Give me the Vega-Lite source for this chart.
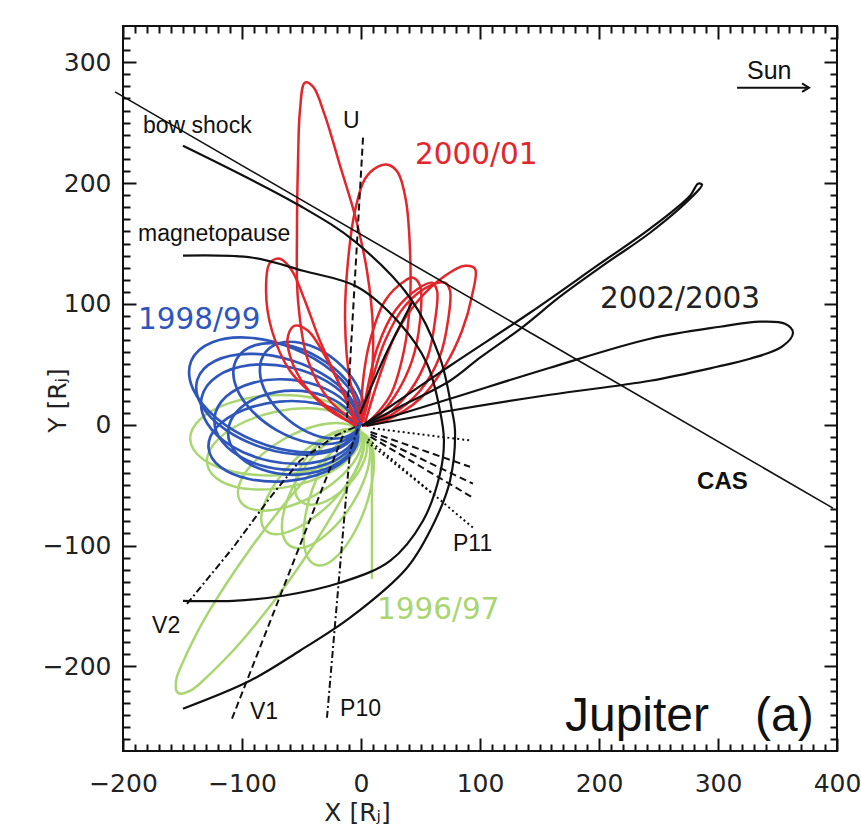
{
"$schema":"https://vega.github.io/schema/vega-lite/v6.json",
"width":714,"height":725,
"autosize":{"type":"none"},
"padding":{"left":123,"top":26,"right":24,"bottom":88},
"background":"white",
"config":{"view":{"stroke":"#111","strokeWidth":2}},
"resolve":{"axis":{"x":"independent","y":"independent"}},
"datasets":{
"green":[
{"id":"G1","i":0,"x":-0.9,"y":-5.0},{"id":"G1","i":1,"x":-9.6,"y":-22.1},{"id":"G1","i":2,"x":-34.9,"y":-35.5},{"id":"G1","i":3,"x":-70.4,"y":-41.7},{"id":"G1","i":4,"x":-106.3,"y":-39.1},{"id":"G1","i":5,"x":-133.0,"y":-28.3},{"id":"G1","i":6,"x":-143.5,"y":-12.2},{"id":"G1","i":7,"x":-134.8,"y":4.9},{"id":"G1","i":8,"x":-109.5,"y":18.3},{"id":"G1","i":9,"x":-74.0,"y":24.5},{"id":"G1","i":10,"x":-38.1,"y":21.9},{"id":"G1","i":11,"x":-11.4,"y":11.1},
{"id":"G2","i":0,"x":-80.3,"y":-87.4},{"id":"G2","i":1,"x":-83.5,"y":-73.9},{"id":"G2","i":2,"x":-75.1,"y":-53.3},{"id":"G2","i":3,"x":-57.5,"y":-30.9},{"id":"G2","i":4,"x":-35.3,"y":-12.9},{"id":"G2","i":5,"x":-14.7,"y":-3.9},{"id":"G2","i":6,"x":-0.9,"y":-6.6},{"id":"G2","i":7,"x":2.3,"y":-20.1},{"id":"G2","i":8,"x":-6.1,"y":-40.7},{"id":"G2","i":9,"x":-23.7,"y":-63.1},{"id":"G2","i":10,"x":-45.9,"y":-81.1},{"id":"G2","i":11,"x":-66.5,"y":-90.1},
{"id":"G3","i":0,"x":-59.7,"y":-100.2},{"id":"G3","i":1,"x":-66.3,"y":-87.2},{"id":"G3","i":2,"x":-63.0,"y":-65.3},{"id":"G3","i":3,"x":-50.7,"y":-40.1},{"id":"G3","i":4,"x":-32.6,"y":-18.5},{"id":"G3","i":5,"x":-13.9,"y":-6.2},{"id":"G3","i":6,"x":0.9,"y":-6.6},{"id":"G3","i":7,"x":7.5,"y":-19.6},{"id":"G3","i":8,"x":4.2,"y":-41.5},{"id":"G3","i":9,"x":-8.1,"y":-66.7},{"id":"G3","i":10,"x":-26.2,"y":-88.3},{"id":"G3","i":11,"x":-44.9,"y":-100.6},
{"id":"G4","i":0,"x":-101.7,"y":-62.9},{"id":"G4","i":1,"x":-101.6,"y":-47.6},{"id":"G4","i":2,"x":-88.0,"y":-29.0},{"id":"G4","i":3,"x":-64.6,"y":-11.8},{"id":"G4","i":4,"x":-37.6,"y":-0.8},{"id":"G4","i":5,"x":-14.4,"y":1.0},{"id":"G4","i":6,"x":-0.9,"y":-6.7},{"id":"G4","i":7,"x":-1.0,"y":-22.0},{"id":"G4","i":8,"x":-14.6,"y":-40.6},{"id":"G4","i":9,"x":-38.0,"y":-57.8},{"id":"G4","i":10,"x":-65.0,"y":-68.8},{"id":"G4","i":11,"x":-88.2,"y":-70.6},
{"id":"G5","i":0,"x":-38.3,"y":-115.9},{"id":"G5","i":1,"x":-46.8,"y":-104.7},{"id":"G5","i":2,"x":-47.7,"y":-81.9},{"id":"G5","i":3,"x":-40.9,"y":-53.6},{"id":"G5","i":4,"x":-28.1,"y":-27.3},{"id":"G5","i":5,"x":-12.8,"y":-10.1},{"id":"G5","i":6,"x":0.9,"y":-6.7},{"id":"G5","i":7,"x":9.4,"y":-17.9},{"id":"G5","i":8,"x":10.3,"y":-40.7},{"id":"G5","i":9,"x":3.5,"y":-69.0},{"id":"G5","i":10,"x":-9.3,"y":-95.3},{"id":"G5","i":11,"x":-24.6,"y":-112.5},
{"id":"G6","i":0,"x":-153.8,"y":-221.9},{"id":"G6","i":1,"x":-155.6,"y":-215.2},{"id":"G6","i":2,"x":-152.0,"y":-201.5},{"id":"G6","i":3,"x":-130.0,"y":-158.2},{"id":"G6","i":4,"x":-93.6,"y":-103.4},{"id":"G6","i":5,"x":-52.6,"y":-51.8},{"id":"G6","i":6,"x":-18.2,"y":-17.3},{"id":"G6","i":7,"x":0.8,"y":-9.1},{"id":"G6","i":8,"x":-1.0,"y":-29.5},{"id":"G6","i":9,"x":-23.0,"y":-72.8},{"id":"G6","i":10,"x":-59.4,"y":-127.6},{"id":"G6","i":11,"x":-100.4,"y":-179.2},{"id":"G6","i":12,"x":-134.8,"y":-213.7},{"id":"G6","i":13,"x":-146.8,"y":-221.4},
{"id":"G7","i":0,"x":-51.3,"y":-62.9},{"id":"G7","i":1,"x":-55.6,"y":-52.1},{"id":"G7","i":2,"x":-51.7,"y":-36.8},{"id":"G7","i":3,"x":-40.7,"y":-20.8},{"id":"G7","i":4,"x":-25.5,"y":-8.6},{"id":"G7","i":5,"x":-10.4,"y":-3.5},{"id":"G7","i":6,"x":0.9,"y":-6.7},{"id":"G7","i":7,"x":5.2,"y":-17.5},{"id":"G7","i":8,"x":1.3,"y":-32.8},{"id":"G7","i":9,"x":-9.7,"y":-48.8},{"id":"G7","i":10,"x":-24.9,"y":-61.0},{"id":"G7","i":11,"x":-40.0,"y":-66.1},
{"id":"G8","i":0,"x":-0.9,"y":-6.6},{"id":"G8","i":1,"x":-6.2,"y":-23.8},{"id":"G8","i":2,"x":-27.2,"y":-40.0},{"id":"G8","i":3,"x":-58.4,"y":-50.8},{"id":"G8","i":4,"x":-91.4,"y":-53.4},{"id":"G8","i":5,"x":-117.2,"y":-47.0},{"id":"G8","i":6,"x":-129.1,"y":-33.4},{"id":"G8","i":7,"x":-123.8,"y":-16.2},{"id":"G8","i":8,"x":-102.8,"y":0.0},{"id":"G8","i":9,"x":-71.6,"y":10.8},{"id":"G8","i":10,"x":-38.6,"y":13.4},{"id":"G8","i":11,"x":-12.8,"y":7.0}
],
"gline":[{"x":9.2,"y":-13.2},{"x":9.2,"y":-127.5}],
"blue":[
{"id":"B1","i":0,"x":-2.5,"y":-3.3},{"id":"B1","i":1,"x":-19.8,"y":-18.7},{"id":"B1","i":2,"x":-51.2,"y":-22.6},{"id":"B1","i":3,"x":-88.4,"y":-13.7},{"id":"B1","i":4,"x":-121.4,"y":5.4},{"id":"B1","i":5,"x":-141.2,"y":29.7},{"id":"B1","i":6,"x":-142.7,"y":52.7},{"id":"B1","i":7,"x":-125.4,"y":68.1},{"id":"B1","i":8,"x":-94.0,"y":72.0},{"id":"B1","i":9,"x":-56.8,"y":63.1},{"id":"B1","i":10,"x":-23.8,"y":44.0},{"id":"B1","i":11,"x":-4.0,"y":19.7},
{"id":"B2","i":0,"x":-2.5,"y":-4.9},{"id":"B2","i":1,"x":-15.5,"y":-22.5},{"id":"B2","i":2,"x":-42.6,"y":-31.7},{"id":"B2","i":3,"x":-76.6,"y":-30.0},{"id":"B2","i":4,"x":-108.4,"y":-17.9},{"id":"B2","i":5,"x":-129.3,"y":1.3},{"id":"B2","i":6,"x":-133.9,"y":22.5},{"id":"B2","i":7,"x":-120.9,"y":40.1},{"id":"B2","i":8,"x":-93.8,"y":49.3},{"id":"B2","i":9,"x":-59.8,"y":47.6},{"id":"B2","i":10,"x":-28.0,"y":35.5},{"id":"B2","i":11,"x":-7.1,"y":16.3},
{"id":"B3","i":0,"x":-2.5,"y":-5.0},{"id":"B3","i":1,"x":-12.3,"y":-22.9},{"id":"B3","i":2,"x":-35.5,"y":-34.5},{"id":"B3","i":3,"x":-66.1,"y":-36.9},{"id":"B3","i":4,"x":-95.9,"y":-29.3},{"id":"B3","i":5,"x":-116.7,"y":-13.9},{"id":"B3","i":6,"x":-123.1,"y":5.4},{"id":"B3","i":7,"x":-113.3,"y":23.3},{"id":"B3","i":8,"x":-90.1,"y":34.9},{"id":"B3","i":9,"x":-59.5,"y":37.3},{"id":"B3","i":10,"x":-29.7,"y":29.7},{"id":"B3","i":11,"x":-8.9,"y":14.3},
{"id":"B4","i":0,"x":-2.5,"y":-6.6},{"id":"B4","i":1,"x":-9.8,"y":-24.0},{"id":"B4","i":2,"x":-29.8,"y":-36.7},{"id":"B4","i":3,"x":-57.1,"y":-41.4},{"id":"B4","i":4,"x":-84.4,"y":-36.7},{"id":"B4","i":5,"x":-104.4,"y":-24.0},{"id":"B4","i":6,"x":-111.7,"y":-6.6},{"id":"B4","i":7,"x":-104.4,"y":10.8},{"id":"B4","i":8,"x":-84.4,"y":23.5},{"id":"B4","i":9,"x":-57.1,"y":28.2},{"id":"B4","i":10,"x":-29.8,"y":23.5},{"id":"B4","i":11,"x":-9.8,"y":10.8},
{"id":"B5","i":0,"x":-2.5,"y":-3.3},{"id":"B5","i":1,"x":-18.1,"y":-14.5},{"id":"B5","i":2,"x":-43.1,"y":-14.9},{"id":"B5","i":3,"x":-71.0,"y":-4.4},{"id":"B5","i":4,"x":-94.1,"y":14.1},{"id":"B5","i":5,"x":-106.3,"y":35.7},{"id":"B5","i":6,"x":-104.3,"y":54.7},{"id":"B5","i":7,"x":-88.7,"y":65.9},{"id":"B5","i":8,"x":-63.7,"y":66.3},{"id":"B5","i":9,"x":-35.8,"y":55.8},{"id":"B5","i":10,"x":-12.7,"y":37.3},{"id":"B5","i":11,"x":-0.5,"y":15.7},
{"id":"B6","i":0,"x":-2.5,"y":-3.4},{"id":"B6","i":1,"x":-18.0,"y":-11.2},{"id":"B6","i":2,"x":-39.6,"y":-8.3},{"id":"B6","i":3,"x":-61.7,"y":4.5},{"id":"B6","i":4,"x":-78.4,"y":23.7},{"id":"B6","i":5,"x":-85.0,"y":44.2},{"id":"B6","i":6,"x":-79.9,"y":60.6},{"id":"B6","i":7,"x":-64.4,"y":68.4},{"id":"B6","i":8,"x":-42.8,"y":65.5},{"id":"B6","i":9,"x":-20.7,"y":52.7},{"id":"B6","i":10,"x":-4.0,"y":33.5},{"id":"B6","i":11,"x":2.6,"y":13.0},
{"id":"B7","i":0,"x":-2.5,"y":-8.3},{"id":"B7","i":1,"x":-9.4,"y":-25.5},{"id":"B7","i":2,"x":-31.4,"y":-39.5},{"id":"B7","i":3,"x":-62.4,"y":-46.6},{"id":"B7","i":4,"x":-94.2,"y":-44.9},{"id":"B7","i":5,"x":-118.2,"y":-34.9},{"id":"B7","i":6,"x":-128.1,"y":-19.1},{"id":"B7","i":7,"x":-121.2,"y":-1.9},{"id":"B7","i":8,"x":-99.2,"y":12.1},{"id":"B7","i":9,"x":-68.2,"y":19.2},{"id":"B7","i":10,"x":-36.4,"y":17.5},{"id":"B7","i":11,"x":-12.4,"y":7.5},
{"id":"B8","i":0,"x":-2.5,"y":-3.3},{"id":"B8","i":1,"x":-17.2,"y":-18.8},{"id":"B8","i":2,"x":-46.0,"y":-24.7},{"id":"B8","i":3,"x":-81.3,"y":-19.4},{"id":"B8","i":4,"x":-113.6,"y":-4.3},{"id":"B8","i":5,"x":-134.2,"y":16.4},{"id":"B8","i":6,"x":-137.5,"y":37.3},{"id":"B8","i":7,"x":-122.8,"y":52.8},{"id":"B8","i":8,"x":-94.0,"y":58.7},{"id":"B8","i":9,"x":-58.7,"y":53.4},{"id":"B8","i":10,"x":-26.4,"y":38.3},{"id":"B8","i":11,"x":-5.8,"y":17.6}
],
"red":[
{"id":"R1","i":0,"x":-2.5,"y":1.7},{"id":"R1","i":1,"x":-26.1,"y":19.9},{"id":"R1","i":2,"x":-44.5,"y":53.0},{"id":"R1","i":3,"x":-52.9,"y":102.6},{"id":"R1","i":4,"x":-53.8,"y":160.6},{"id":"R1","i":5,"x":-52.9,"y":218.5},{"id":"R1","i":6,"x":-51.3,"y":259.9},{"id":"R1","i":7,"x":-47.1,"y":283.1},{"id":"R1","i":8,"x":-40.3,"y":279.8},{"id":"R1","i":9,"x":-30.3,"y":255.8},{"id":"R1","i":10,"x":-17.6,"y":214.4},{"id":"R1","i":11,"x":-5.0,"y":173.0},{"id":"R1","i":12,"x":5.0,"y":127.5},{"id":"R1","i":13,"x":10.1,"y":77.8},{"id":"R1","i":14,"x":7.6,"y":28.1},{"id":"R1","i":15,"x":0.8,"y":1.7},
{"id":"R2","i":0,"x":0.8,"y":1.7},{"id":"R2","i":1,"x":-9.2,"y":36.4},{"id":"R2","i":2,"x":-13.4,"y":86.1},{"id":"R2","i":3,"x":-10.9,"y":135.8},{"id":"R2","i":4,"x":-5.0,"y":177.2},{"id":"R2","i":5,"x":3.4,"y":203.6},{"id":"R2","i":6,"x":14.3,"y":213.6},{"id":"R2","i":7,"x":22.7,"y":215.2},{"id":"R2","i":8,"x":31.1,"y":208.6},{"id":"R2","i":9,"x":37.8,"y":185.4},{"id":"R2","i":10,"x":41.2,"y":144.0},{"id":"R2","i":11,"x":41.2,"y":102.6},{"id":"R2","i":12,"x":36.1,"y":61.3},{"id":"R2","i":13,"x":24.4,"y":24.0},{"id":"R2","i":14,"x":5.9,"y":1.7},
{"id":"R3","i":0,"x":-5.0,"y":-0.8},{"id":"R3","i":1,"x":-34.5,"y":19.9},{"id":"R3","i":2,"x":-59.7,"y":44.7},{"id":"R3","i":3,"x":-74.8,"y":77.8},{"id":"R3","i":4,"x":-79.8,"y":110.9},{"id":"R3","i":5,"x":-76.5,"y":134.1},{"id":"R3","i":6,"x":-68.1,"y":137.4},{"id":"R3","i":7,"x":-58.0,"y":127.5},{"id":"R3","i":8,"x":-47.1,"y":102.6},{"id":"R3","i":9,"x":-34.5,"y":69.5},{"id":"R3","i":10,"x":-17.6,"y":32.3},{"id":"R3","i":11,"x":-4.2,"y":1.7},
{"id":"R4","i":0,"x":3.4,"y":1.7},{"id":"R4","i":1,"x":14.3,"y":36.4},{"id":"R4","i":2,"x":28.6,"y":73.7},{"id":"R4","i":3,"x":47.9,"y":102.6},{"id":"R4","i":4,"x":70.6,"y":123.3},{"id":"R4","i":5,"x":87.4,"y":131.6},{"id":"R4","i":6,"x":95.8,"y":129.1},{"id":"R4","i":7,"x":93.3,"y":106.8},{"id":"R4","i":8,"x":84.9,"y":77.8},{"id":"R4","i":9,"x":70.6,"y":48.8},{"id":"R4","i":10,"x":49.6,"y":21.5},{"id":"R4","i":11,"x":20.2,"y":3.3},{"id":"R4","i":12,"x":3.4,"y":-0.8},
{"id":"R5","i":0,"x":1.7,"y":3.3},{"id":"R5","i":1,"x":9.2,"y":36.4},{"id":"R5","i":2,"x":20.2,"y":69.5},{"id":"R5","i":3,"x":37.0,"y":98.5},{"id":"R5","i":4,"x":58.0,"y":115.1},{"id":"R5","i":5,"x":70.6,"y":117.5},{"id":"R5","i":6,"x":74.8,"y":110.9},{"id":"R5","i":7,"x":73.1,"y":86.1},{"id":"R5","i":8,"x":66.4,"y":57.1},{"id":"R5","i":9,"x":49.6,"y":28.1},{"id":"R5","i":10,"x":24.4,"y":7.5},{"id":"R5","i":11,"x":3.4,"y":-0.8},
{"id":"R6","i":0,"x":0.8,"y":3.3},{"id":"R6","i":1,"x":5.9,"y":32.3},{"id":"R6","i":2,"x":14.3,"y":65.4},{"id":"R6","i":3,"x":28.6,"y":94.4},{"id":"R6","i":4,"x":47.9,"y":112.6},{"id":"R6","i":5,"x":59.7,"y":117.5},{"id":"R6","i":6,"x":63.9,"y":110.9},{"id":"R6","i":7,"x":62.2,"y":86.1},{"id":"R6","i":8,"x":56.3,"y":57.1},{"id":"R6","i":9,"x":41.2,"y":28.1},{"id":"R6","i":10,"x":20.2,"y":7.5},{"id":"R6","i":11,"x":2.5,"y":-0.8},
{"id":"R7","i":0,"x":0.0,"y":3.3},{"id":"R7","i":1,"x":1.7,"y":36.4},{"id":"R7","i":2,"x":7.6,"y":69.5},{"id":"R7","i":3,"x":20.2,"y":102.6},{"id":"R7","i":4,"x":37.0,"y":119.2},{"id":"R7","i":5,"x":43.7,"y":121.7},{"id":"R7","i":6,"x":49.6,"y":115.1},{"id":"R7","i":7,"x":49.6,"y":86.1},{"id":"R7","i":8,"x":42.9,"y":53.0},{"id":"R7","i":9,"x":28.6,"y":24.0},{"id":"R7","i":10,"x":11.8,"y":5.0},{"id":"R7","i":11,"x":0.8,"y":-0.8},
{"id":"R8","i":0,"x":-2.5,"y":-0.8},{"id":"R8","i":1,"x":-26.1,"y":11.6},{"id":"R8","i":2,"x":-47.1,"y":32.3},{"id":"R8","i":3,"x":-59.7,"y":57.1},{"id":"R8","i":4,"x":-61.3,"y":73.7},{"id":"R8","i":5,"x":-55.5,"y":82.0},{"id":"R8","i":6,"x":-44.5,"y":77.8},{"id":"R8","i":7,"x":-30.3,"y":57.1},{"id":"R8","i":8,"x":-13.4,"y":24.0},{"id":"R8","i":9,"x":-2.5,"y":1.7}
],
"black":[
{"id":"A","i":0,"x":0.8,"y":-0.8},{"id":"A","i":1,"x":74.8,"y":48.8},{"id":"A","i":2,"x":142.0,"y":92.7},{"id":"A","i":3,"x":200.8,"y":133.3},{"id":"A","i":4,"x":242.9,"y":162.3},{"id":"A","i":5,"x":276.5,"y":189.6},{"id":"A","i":6,"x":283.2,"y":199.5},{"id":"A","i":7,"x":286.6,"y":198.7},{"id":"A","i":8,"x":278.2,"y":188.7},{"id":"A","i":9,"x":242.9,"y":158.9},{"id":"A","i":10,"x":206.7,"y":134.1},{"id":"A","i":11,"x":167.2,"y":106.0},{"id":"A","i":12,"x":136.1,"y":81.1},{"id":"A","i":13,"x":100.0,"y":55.5},{"id":"A","i":14,"x":74.8,"y":36.4},{"id":"A","i":15,"x":32.8,"y":14.9},{"id":"A","i":16,"x":3.4,"y":0.0},
{"id":"B","i":0,"x":0.8,"y":-0.8},{"id":"B","i":1,"x":74.8,"y":21.5},{"id":"B","i":2,"x":158.8,"y":47.2},{"id":"B","i":3,"x":242.9,"y":71.2},{"id":"B","i":4,"x":301.7,"y":81.1},{"id":"B","i":5,"x":335.3,"y":85.3},{"id":"B","i":6,"x":356.3,"y":83.6},{"id":"B","i":7,"x":363.0,"y":76.2},{"id":"B","i":8,"x":353.8,"y":64.6},{"id":"B","i":9,"x":326.9,"y":54.6},{"id":"B","i":10,"x":299.2,"y":48.0},{"id":"B","i":11,"x":242.9,"y":36.4},{"id":"B","i":12,"x":158.8,"y":24.8},{"id":"B","i":13,"x":74.8,"y":11.6},{"id":"B","i":14,"x":5.0,"y":-0.8},
{"id":"S","i":0,"x":-0.8,"y":9.1},{"id":"S","i":1,"x":20.2,"y":57.1},{"id":"S","i":2,"x":43.7,"y":102.6},
{"id":"bow","i":0,"x":-149.6,"y":230.9},{"id":"bow","i":1,"x":-51.3,"y":181.2},{"id":"bow","i":2,"x":-5.0,"y":151.5},{"id":"bow","i":3,"x":41.2,"y":105.1},{"id":"bow","i":4,"x":66.4,"y":55.4},{"id":"bow","i":5,"x":76.5,"y":11.6},{"id":"bow","i":6,"x":79.0,"y":-5.0},{"id":"bow","i":7,"x":74.8,"y":-46.3},{"id":"bow","i":8,"x":62.2,"y":-79.4},{"id":"bow","i":9,"x":38.7,"y":-118.3},{"id":"bow","i":10,"x":-9.2,"y":-159.7},{"id":"bow","i":11,"x":-51.3,"y":-187.0},{"id":"bow","i":12,"x":-93.3,"y":-211.9},{"id":"bow","i":13,"x":-149.6,"y":-235.0},
{"id":"mp","i":0,"x":-149.6,"y":139.9},{"id":"mp","i":1,"x":-90.8,"y":138.2},{"id":"mp","i":2,"x":-48.7,"y":127.4},{"id":"mp","i":3,"x":-3.4,"y":114.2},{"id":"mp","i":4,"x":32.8,"y":83.6},{"id":"mp","i":5,"x":55.5,"y":50.5},{"id":"mp","i":6,"x":66.4,"y":11.6},{"id":"mp","i":7,"x":69.7,"y":-13.2},{"id":"mp","i":8,"x":66.4,"y":-40.6},{"id":"mp","i":9,"x":52.1,"y":-79.4},{"id":"mp","i":10,"x":24.4,"y":-112.6},{"id":"mp","i":11,"x":-17.6,"y":-130.8},{"id":"mp","i":12,"x":-65.5,"y":-141.5},{"id":"mp","i":13,"x":-107.6,"y":-145.7},{"id":"mp","i":14,"x":-149.6,"y":-145.7}
],
"dash":[
{"id":"U","d":"dashed","i":0,"x":1.7,"y":237.6},{"id":"U","d":"dashed","i":1,"x":-11.8,"y":5.8},
{"id":"V1","d":"dashed","i":0,"x":-108.4,"y":-243.3},{"id":"V1","d":"dashed","i":1,"x":-13.6,"y":-5.0},
{"id":"V2","d":"dashdot","i":0,"x":-146.2,"y":-148.2},{"id":"V2","d":"dashdot","i":1,"x":-107.6,"y":-101.8},{"id":"V2","d":"dashdot","i":2,"x":-76.5,"y":-60.4},{"id":"V2","d":"dashdot","i":3,"x":-51.3,"y":-29.8},{"id":"V2","d":"dashdot","i":4,"x":-21.8,"y":-9.1},{"id":"V2","d":"dashdot","i":5,"x":-2.5,"y":-0.8},
{"id":"P10","d":"dashdot","i":0,"x":-28.6,"y":-242.5},{"id":"P10","d":"dashdot","i":1,"x":-9.2,"y":-21.5},{"id":"P10","d":"dashdot","i":2,"x":-2.5,"y":-3.3},
{"id":"P11a","d":"dotted","i":0,"x":10,"y":-3},{"id":"P11a","d":"dotted","i":1,"x":93.3,"y":-13.2},
{"id":"P11b","d":"dashed","i":0,"x":8,"y":-6},{"id":"P11b","d":"dashed","i":1,"x":91.6,"y":-34.8},
{"id":"P11c","d":"dashed","i":0,"x":8,"y":-8},{"id":"P11c","d":"dashed","i":1,"x":94.1,"y":-48.8},
{"id":"P11d","d":"dashed","i":0,"x":8,"y":-10},{"id":"P11d","d":"dashed","i":1,"x":94.1,"y":-60.4},
{"id":"P11e","d":"dotted","i":0,"x":6,"y":-12},{"id":"P11e","d":"dotted","i":1,"x":94.1,"y":-85.2},
{"id":"P11f","d":"dotted","i":0,"x":5,"y":-14},{"id":"P11f","d":"dotted","i":1,"x":64,"y":-60}
],
"cas":[{"x":-206.7,"y":275.5},{"x":396.6,"y":-69.0}],
"arrow":[{"x":316,"y":279},{"x":376.5,"y":279}],
"head":[{"x":376.5,"y":279}],
"t1":[{"t":"bow shock","x":-183.2,"y":241.7},{"t":"magnetopause","x":-187.4,"y":152.3},{"t":"U","x":-15.1,"y":245.9},{"t":"V2","x":-175.6,"y":-172.2},{"t":"V1","x":-93.3,"y":-243.4},{"t":"P10","x":-17.6,"y":-240.9},{"t":"P11","x":77.3,"y":-104.3}],
"t2":[{"t":"2000/01","f":"r","x":45.4,"y":216.1},{"t":"1998/99","f":"b","x":-187.4,"y":79.5},{"t":"1996/97","f":"g","x":13.4,"y":-160.6},{"t":"2002/2003","f":"k","x":200.8,"y":96.9}],
"t3":[{"t":"CAS","x":282.4,"y":-53}],
"t4":[{"t":"Sun","x":324.4,"y":286.4}],
"t5":[{"t":"Jupiter","x":171.4,"y":-253.3},{"t":"(a)","x":331.1,"y":-253.3}]
},
"layer":[
{"data":{"name":"green"},"mark":{"type":"line","interpolate":"cardinal-closed","color":"#a9d671","strokeWidth":2.5},
"encoding":{
"x":{"field":"x","type":"quantitative","scale":{"domain":[-200,400],"nice":false,"zero":false},
"axis":{"orient":"bottom","values":[-200,-100,0,100,200,300,400],"ticks":false,"domain":false,"grid":false,"labelFlush":false,"labelOverlap":false,"labelFont":"DejaVu Sans","labelFontSize":25,"labelColor":"#222","labelPadding":20,"title":"X [Rⱼ]","titleFont":"DejaVu Sans","titleFontSize":25,"titleFontWeight":"normal","titleColor":"#222","titleX":234,"titleY":61,"titleAlign":"center","titleBaseline":"middle"}},
"y":{"field":"y","type":"quantitative","scale":{"domain":[-270,330],"nice":false,"zero":false},
"axis":{"orient":"left","values":[-200,-100,0,100,200,300],"ticks":false,"domain":false,"grid":false,"labelFlush":false,"labelOverlap":false,"labelFont":"DejaVu Sans","labelFontSize":25,"labelColor":"#222","labelPadding":12,"title":"Y [Rⱼ]","titleFont":"DejaVu Sans","titleFontSize":25,"titleFontWeight":"normal","titleColor":"#222","titleX":-66,"titleY":374,"titleAngle":270,"titleAlign":"center","titleBaseline":"middle"}},
"detail":{"field":"id"},"order":{"field":"i","type":"quantitative"}}},
{"data":{"name":"gline"},"mark":{"type":"line","color":"#a9d671","strokeWidth":2.5},
"encoding":{"x":{"field":"x","type":"quantitative","scale":{"domain":[-200,400],"nice":false,"zero":false},"axis":null},"y":{"field":"y","type":"quantitative","scale":{"domain":[-270,330],"nice":false,"zero":false},"axis":null}}},
{"data":{"name":"blue"},"mark":{"type":"line","interpolate":"cardinal-closed","color":"#2f56ba","strokeWidth":2.7},
"encoding":{
"x":{"field":"x","type":"quantitative","scale":{"domain":[-200,400],"nice":false,"zero":false},
"axis":{"orient":"bottom","values":[-190,-180,-170,-160,-150,-140,-130,-120,-110,-90,-80,-70,-60,-50,-40,-30,-20,-10,10,20,30,40,50,60,70,80,90,110,120,130,140,150,160,170,180,190,210,220,230,240,250,260,270,280,290,310,320,330,340,350,360,370,380,390],"tickCount":200,"labels":false,"ticks":true,"tickSize":-7,"tickWidth":2,"tickColor":"#111","domain":false,"grid":false,"title":null}},
"y":{"field":"y","type":"quantitative","scale":{"domain":[-270,330],"nice":false,"zero":false},
"axis":{"orient":"left","values":[-260,-250,-240,-230,-220,-210,-190,-180,-170,-160,-150,-140,-130,-120,-110,-90,-80,-70,-60,-50,-40,-30,-20,-10,10,20,30,40,50,60,70,80,90,110,120,130,140,150,160,170,180,190,210,220,230,240,250,260,270,280,290,310,320],"tickCount":200,"labels":false,"ticks":true,"tickSize":-7,"tickWidth":2,"tickColor":"#111","domain":false,"grid":false,"title":null}},
"detail":{"field":"id"},"order":{"field":"i","type":"quantitative"}}},
{"data":{"name":"red"},"mark":{"type":"line","interpolate":"catmull-rom","color":"#e3262c","strokeWidth":2.5},
"encoding":{
"x":{"field":"x","type":"quantitative","scale":{"domain":[-200,400],"nice":false,"zero":false},
"axis":{"orient":"bottom","values":[-200,-100,0,100,200,300,400],"labels":false,"ticks":true,"tickSize":-13,"tickWidth":2,"tickColor":"#111","domain":false,"grid":false,"title":null}},
"y":{"field":"y","type":"quantitative","scale":{"domain":[-270,330],"nice":false,"zero":false},
"axis":{"orient":"left","values":[-200,-100,0,100,200,300],"labels":false,"ticks":true,"tickSize":-13,"tickWidth":2,"tickColor":"#111","domain":false,"grid":false,"title":null}},
"detail":{"field":"id"},"order":{"field":"i","type":"quantitative"}}},
{"data":{"name":"black"},"mark":{"type":"line","interpolate":"catmull-rom","color":"#111","strokeWidth":2.2},
"encoding":{
"x":{"field":"x","type":"quantitative","scale":{"domain":[-200,400],"nice":false,"zero":false},
"axis":{"orient":"top","values":[-190,-180,-170,-160,-150,-140,-130,-120,-110,-90,-80,-70,-60,-50,-40,-30,-20,-10,10,20,30,40,50,60,70,80,90,110,120,130,140,150,160,170,180,190,210,220,230,240,250,260,270,280,290,310,320,330,340,350,360,370,380,390],"tickCount":200,"labels":false,"ticks":true,"tickSize":-7,"tickWidth":2,"tickColor":"#111","domain":false,"grid":false,"title":null}},
"y":{"field":"y","type":"quantitative","scale":{"domain":[-270,330],"nice":false,"zero":false},
"axis":{"orient":"right","values":[-260,-250,-240,-230,-220,-210,-190,-180,-170,-160,-150,-140,-130,-120,-110,-90,-80,-70,-60,-50,-40,-30,-20,-10,10,20,30,40,50,60,70,80,90,110,120,130,140,150,160,170,180,190,210,220,230,240,250,260,270,280,290,310,320],"tickCount":200,"labels":false,"ticks":true,"tickSize":-7,"tickWidth":2,"tickColor":"#111","domain":false,"grid":false,"title":null}},
"detail":{"field":"id"},"order":{"field":"i","type":"quantitative"}}},
{"data":{"name":"dash"},"mark":{"type":"line","color":"#111","strokeWidth":2},
"encoding":{
"x":{"field":"x","type":"quantitative","scale":{"domain":[-200,400],"nice":false,"zero":false},
"axis":{"orient":"top","values":[-200,-100,0,100,200,300,400],"labels":false,"ticks":true,"tickSize":-13,"tickWidth":2,"tickColor":"#111","domain":false,"grid":false,"title":null}},
"y":{"field":"y","type":"quantitative","scale":{"domain":[-270,330],"nice":false,"zero":false},
"axis":{"orient":"right","values":[-200,-100,0,100,200,300],"labels":false,"ticks":true,"tickSize":-13,"tickWidth":2,"tickColor":"#111","domain":false,"grid":false,"title":null}},
"detail":{"field":"id"},"order":{"field":"i","type":"quantitative"},
"strokeDash":{"field":"d","type":"nominal","scale":{"domain":["dashed","dashdot","dotted"],"range":[[7,4],[7,3,2,3],[2,3]]},"legend":null}}},
{"data":{"name":"cas"},"mark":{"type":"line","color":"#111","strokeWidth":1.6,"clip":false},
"encoding":{"x":{"field":"x","type":"quantitative","scale":{"domain":[-200,400],"nice":false,"zero":false},"axis":null},"y":{"field":"y","type":"quantitative","scale":{"domain":[-270,330],"nice":false,"zero":false},"axis":null}}},
{"data":{"name":"arrow"},"mark":{"type":"line","color":"#111","strokeWidth":2},
"encoding":{"x":{"field":"x","type":"quantitative","scale":{"domain":[-200,400],"nice":false,"zero":false},"axis":null},"y":{"field":"y","type":"quantitative","scale":{"domain":[-270,330],"nice":false,"zero":false},"axis":null}}},
{"data":{"name":"head"},"mark":{"type":"point","shape":"M-1,-0.6L0,0L-1,0.6","filled":false,"stroke":"#111","strokeWidth":2,"size":196,"opacity":1},
"encoding":{"x":{"field":"x","type":"quantitative","scale":{"domain":[-200,400],"nice":false,"zero":false},"axis":null},"y":{"field":"y","type":"quantitative","scale":{"domain":[-270,330],"nice":false,"zero":false},"axis":null}}},
{"data":{"name":"t1"},"mark":{"type":"text","font":"Liberation Sans","fontSize":23,"align":"left","baseline":"alphabetic","color":"#111"},
"encoding":{"x":{"field":"x","type":"quantitative","scale":{"domain":[-200,400],"nice":false,"zero":false},"axis":null},"y":{"field":"y","type":"quantitative","scale":{"domain":[-270,330],"nice":false,"zero":false},"axis":null},"text":{"field":"t"}}},
{"data":{"name":"t2"},"mark":{"type":"text","font":"DejaVu Sans","fontSize":29.5,"align":"left","baseline":"alphabetic"},
"encoding":{"x":{"field":"x","type":"quantitative","scale":{"domain":[-200,400],"nice":false,"zero":false},"axis":null},"y":{"field":"y","type":"quantitative","scale":{"domain":[-270,330],"nice":false,"zero":false},"axis":null},"text":{"field":"t"},
"color":{"field":"f","type":"nominal","scale":{"domain":["r","b","g","k"],"range":["#e3262c","#2f56ba","#a9d671","#222222"]},"legend":null}}},
{"data":{"name":"t3"},"mark":{"type":"text","font":"Liberation Sans","fontSize":24,"fontWeight":"bold","align":"left","baseline":"alphabetic","color":"#111"},
"encoding":{"x":{"field":"x","type":"quantitative","scale":{"domain":[-200,400],"nice":false,"zero":false},"axis":null},"y":{"field":"y","type":"quantitative","scale":{"domain":[-270,330],"nice":false,"zero":false},"axis":null},"text":{"field":"t"}}},
{"data":{"name":"t4"},"mark":{"type":"text","font":"Liberation Sans","fontSize":25,"align":"left","baseline":"alphabetic","color":"#111"},
"encoding":{"x":{"field":"x","type":"quantitative","scale":{"domain":[-200,400],"nice":false,"zero":false},"axis":null},"y":{"field":"y","type":"quantitative","scale":{"domain":[-270,330],"nice":false,"zero":false},"axis":null},"text":{"field":"t"}}},
{"data":{"name":"t5"},"mark":{"type":"text","font":"Liberation Sans","fontSize":48,"align":"left","baseline":"alphabetic","color":"#111"},
"encoding":{"x":{"field":"x","type":"quantitative","scale":{"domain":[-200,400],"nice":false,"zero":false},"axis":null},"y":{"field":"y","type":"quantitative","scale":{"domain":[-270,330],"nice":false,"zero":false},"axis":null},"text":{"field":"t"}}}
]
}
